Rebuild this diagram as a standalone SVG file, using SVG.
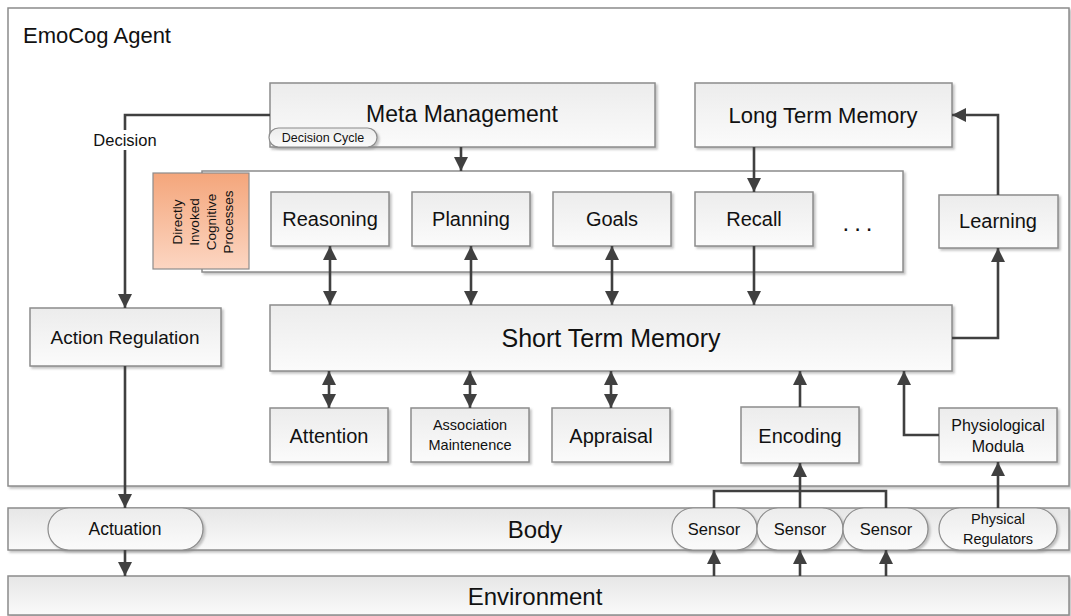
<svg xmlns="http://www.w3.org/2000/svg" width="1071" height="616" viewBox="0 0 1071 616">
<style>
.box{fill:url(#g);stroke:#8c8c8c;stroke-width:1.5;filter:url(#sh)}
.pill{fill:url(#g);stroke:#8c8c8c;stroke-width:1.2;filter:url(#sh)}
.band{fill:url(#gb);stroke:#8c8c8c;stroke-width:1.5;filter:url(#sh)}
.plain{fill:#fff;stroke:#8c8c8c;stroke-width:1.5;filter:url(#sh)}
text{font-family:"Liberation Sans",Arial,sans-serif;fill:#111;text-anchor:middle;dominant-baseline:central}
.c{fill:none;stroke:#404040;stroke-width:2.6}
.a{marker-end:url(#ah)}
.aa{marker-end:url(#ah);marker-start:url(#ah)}
</style>
<defs>
<linearGradient id="g" x1="0" y1="0" x2="0" y2="1"><stop offset="0" stop-color="#ececec"/><stop offset="1" stop-color="#fbfbfb"/></linearGradient>
<linearGradient id="gb" x1="0" y1="0" x2="0" y2="1"><stop offset="0" stop-color="#e6e6e6"/><stop offset="1" stop-color="#fafafa"/></linearGradient>
<linearGradient id="go" x1="0" y1="0" x2="0" y2="1"><stop offset="0" stop-color="#f4a67b"/><stop offset="1" stop-color="#fcd6c2"/></linearGradient>
<filter id="sh" x="-10%" y="-10%" width="120%" height="130%"><feDropShadow dx="2" dy="2" stdDeviation="1.2" flood-color="#888" flood-opacity="0.5"/></filter>
<marker id="ah" viewBox="0 0 10 10" refX="10" refY="5" markerWidth="14" markerHeight="15" markerUnits="userSpaceOnUse" orient="auto-start-reverse"><path d="M0,0 L10,5 L0,10 z" fill="#404040"/></marker>
</defs>

<g id="agent"><rect class="plain" x="8" y="8" width="1061" height="478"/><text x="23" y="35" style="text-anchor:start;font-size:22px">EmoCog Agent</text></g>
<g id="body"><rect class="band" x="8" y="508" width="1061" height="42"/><text x="535" y="529" style="font-size:24px">Body</text></g>
<g id="environment"><rect class="band" x="8" y="576" width="1061" height="39"/><text x="535" y="596" style="font-size:24px">Environment</text></g>

<g id="meta"><rect class="box" x="270" y="83" width="385" height="64"/><text x="462" y="114" style="font-size:23px">Meta Management</text></g>
<g id="decisioncycle"><rect class="pill" x="269" y="128" width="108" height="19" rx="9.5"/><text x="323" y="138" style="font-size:12.5px">Decision Cycle</text></g>
<g id="ltm"><rect class="box" x="695" y="83" width="257" height="64"/><text x="823" y="115" style="font-size:22px">Long Term Memory</text></g>

<g id="cognitive"><rect class="plain" x="202" y="171" width="701" height="101"/></g>
<g id="dicp"><rect x="153" y="173" width="96" height="96" fill="url(#go)" stroke="#8c8c8c" stroke-width="1.2"/>
<g style="font-size:13.5px"><text transform="translate(177,222) rotate(-90)">Directly</text><text transform="translate(194,222) rotate(-90)">Invoked</text><text transform="translate(211,222) rotate(-90)">Cognitive</text><text transform="translate(228,222) rotate(-90)">Processes</text></g></g>
<g id="reasoning"><rect class="box" x="271" y="192" width="118" height="54"/><text x="330" y="219" style="font-size:20px">Reasoning</text></g>
<g id="planning"><rect class="box" x="412" y="192" width="118" height="54"/><text x="471" y="219" style="font-size:20px">Planning</text></g>
<g id="goals"><rect class="box" x="553" y="192" width="118" height="54"/><text x="612" y="219" style="font-size:20px">Goals</text></g>
<g id="recall"><rect class="box" x="695" y="192" width="118" height="54"/><text x="754" y="219" style="font-size:20px">Recall</text></g>
<g id="more"><text x="860" y="222" style="font-size:24px;letter-spacing:5px">...</text></g>
<g id="learning"><rect class="box" x="939" y="195" width="119" height="53"/><text x="998" y="221" style="font-size:20px">Learning</text></g>

<g id="action"><rect class="box" x="30" y="308" width="191" height="58"/><text x="125" y="337" style="font-size:19px">Action Regulation</text></g>
<g id="stm"><rect class="box" x="270" y="305" width="682" height="66"/><text x="611" y="338" style="font-size:25px">Short Term Memory</text></g>

<g id="attention"><rect class="box" x="270" y="408" width="118" height="54"/><text x="329" y="436" style="font-size:20px">Attention</text></g>
<g id="association"><rect class="box" x="411" y="408" width="118" height="54"/><text x="470" y="425" style="font-size:14.5px">Association</text><text x="470" y="445" style="font-size:14.5px">Maintenence</text></g>
<g id="appraisal"><rect class="box" x="552" y="408" width="118" height="54"/><text x="611" y="436" style="font-size:20px">Appraisal</text></g>
<g id="encoding"><rect class="box" x="741" y="407" width="118" height="56"/><text x="800" y="436" style="font-size:20px">Encoding</text></g>
<g id="physio"><rect class="box" x="939" y="408" width="118" height="54"/><text x="998" y="425" style="font-size:16px">Physiological</text><text x="998" y="446" style="font-size:16px">Modula</text></g>

<g id="actuation"><rect class="pill" x="48" y="508" width="155" height="42" rx="21"/><text x="125" y="529" style="font-size:17.5px">Actuation</text></g>
<g id="sensor1"><rect class="pill" x="672" y="508" width="85" height="42" rx="21"/><text x="714" y="529" style="font-size:16.5px">Sensor</text></g>
<g id="sensor2"><rect class="pill" x="757" y="508" width="86" height="42" rx="21"/><text x="800" y="529" style="font-size:16.5px">Sensor</text></g>
<g id="sensor3"><rect class="pill" x="843" y="508" width="85" height="42" rx="21"/><text x="886" y="529" style="font-size:16.5px">Sensor</text></g>
<g id="physreg"><rect class="pill" x="939" y="508" width="118" height="42" rx="21"/><text x="998" y="519" style="font-size:14.5px">Physical</text><text x="998" y="539" style="font-size:14.5px">Regulators</text></g>

<g id="connectors">
<path class="c a" d="M270,115 H125 V308"/>
<rect x="86" y="130" width="78" height="20" fill="#fff"/>
<text x="125" y="140" style="font-size:16.5px">Decision</text>
<path class="c a" d="M461,147 V171"/>
<path class="c a" d="M754,147 V192"/>
<path class="c aa" d="M330,246 V305"/>
<path class="c aa" d="M471,246 V305"/>
<path class="c aa" d="M612,246 V305"/>
<path class="c a" d="M754,246 V305"/>
<path class="c a" d="M998,195 V115 H952"/>
<path class="c a" d="M952,338 H998 V248"/>
<path class="c aa" d="M329,371 V408"/>
<path class="c aa" d="M470,371 V408"/>
<path class="c aa" d="M611,371 V408"/>
<path class="c a" d="M800,407 V371"/>
<path class="c a" d="M939,435 H904 V371"/>
<path class="c" d="M714,508 V491 H886 V508"/>
<path class="c a" d="M800,508 V463"/>
<path class="c a" d="M998,508 V462"/>
<path class="c a" d="M125,366 V508"/>
<path class="c a" d="M125,550 V576"/>
<path class="c a" d="M714,576 V550"/>
<path class="c a" d="M800,576 V550"/>
<path class="c a" d="M886,576 V550"/>
</g>
</svg>
